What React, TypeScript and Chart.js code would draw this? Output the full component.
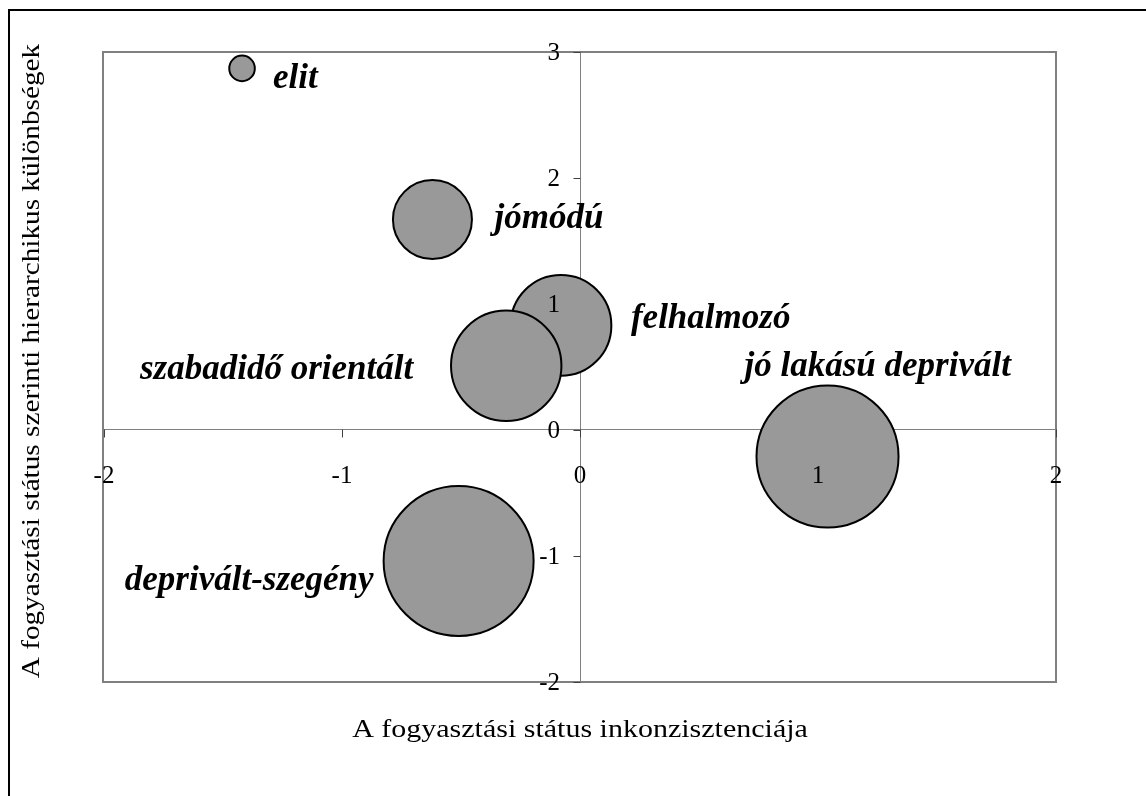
import React, { useEffect, useRef } from "react";
import { Chart, registerables } from "chart.js";

Chart.register(...registerables);

// ---- data ----
const groups = [
  "elit",
  "jómódú",
  "felhalmozó",
  "szabadidő orientált",
  "jó lakású deprivált",
  "deprivált-szegény",
];
const inconsistency = [-1.42, -0.62, -0.08, -0.31, 1.04, -0.51];
const hierarchy = [2.87, 1.67, 0.83, 0.51, -0.21, -1.04];
const groupShare = [0.9, 8.6, 14, 16.8, 27.8, 31];
const xTickValues = [-2, -1, 0, 1, 2];
const yTickValues = [-2, -1, 0, 1, 2, 3];
const xTitle = "A fogyasztási státus inkonzisztenciája";
const yTitle = "A fogyasztási státus szerinti hierarchikus különbségek";

// ---- layout of the free-standing group labels (px offsets from bubble centre) ----
const labelLayout = [
  { dx: 31, dy: 20, align: "left" },
  { dx: 62, dy: 8, align: "left" },
  { dx: 70, dy: 3, align: "left" },
  { dx: -93, dy: 13, align: "right" },
  { dx: -83, dy: -80, align: "left" },
  { dx: -85, dy: 29, align: "right" },
];

const SERIF = "'Liberation Serif', 'Times New Roman', serif";
const TITLE_STRETCH = 1.2;

const decor = {
  id: "decor",
  beforeDatasetsDraw(chart: any) {
    const { ctx, chartArea: a } = chart;
    const x = chart.scales.x;
    const y = chart.scales.y;
    ctx.save();
    // outer frame
    ctx.strokeStyle = "#000";
    ctx.lineWidth = 2;
    ctx.beginPath();
    ctx.moveTo(9, chart.height);
    ctx.lineTo(9, 10);
    ctx.lineTo(chart.width, 10);
    ctx.stroke();
    // plot area border
    ctx.strokeStyle = "#808080";
    ctx.lineWidth = 2;
    ctx.strokeRect(a.left - 1, a.top, a.right - a.left + 1, a.bottom - a.top);
    // axis lines through 0
    const x0 = Math.round(x.getPixelForValue(0)) + 0.5;
    const y0 = Math.round(y.getPixelForValue(0)) - 0.5;
    ctx.lineWidth = 1;
    ctx.strokeStyle = "#808080";
    ctx.beginPath();
    ctx.moveTo(a.left, y0);
    ctx.lineTo(a.right, y0);
    ctx.moveTo(x0, a.top);
    ctx.lineTo(x0, a.bottom);
    ctx.stroke();
    // tick marks
    ctx.strokeStyle = "#404040";
    ctx.beginPath();
    xTickValues.forEach((v) => {
      const px = Math.round(x.getPixelForValue(v)) + 0.5;
      ctx.moveTo(px, y0);
      ctx.lineTo(px, y0 + 8);
    });
    yTickValues.forEach((v) => {
      const py = Math.round(y.getPixelForValue(v)) + 0.5;
      ctx.moveTo(x0 - 7, py);
      ctx.lineTo(x0, py);
    });
    ctx.stroke();
    ctx.restore();
  },
  afterDatasetsDraw(chart: any) {
    const { ctx, chartArea: a } = chart;
    const x = chart.scales.x;
    const y = chart.scales.y;
    const x0 = x.getPixelForValue(0);
    const y0 = y.getPixelForValue(0);
    ctx.save();
    ctx.fillStyle = "#000";
    ctx.font = `25px ${SERIF}`;
    ctx.textBaseline = "alphabetic";
    // x tick labels
    ctx.textAlign = "center";
    xTickValues.forEach((v) => {
      ctx.fillText(String(v), x.getPixelForValue(v), y0 + 53);
    });
    // y tick labels
    ctx.textAlign = "right";
    yTickValues.forEach((v) => {
      ctx.fillText(String(v), x0 - 20, y.getPixelForValue(v) + 8);
    });
    // axis titles (horizontally stretched, as in the original)
    ctx.textAlign = "center";
    ctx.save();
    ctx.translate((a.left + a.right) / 2, a.bottom + 55);
    ctx.scale(TITLE_STRETCH, 1);
    ctx.fillText(xTitle, 0, 0);
    ctx.restore();
    ctx.save();
    ctx.translate(39, (a.top + a.bottom) / 2 - 6);
    ctx.rotate(-Math.PI / 2);
    ctx.scale(1.17, 1);
    ctx.fillText(yTitle, 0, 0);
    ctx.restore();
    // group labels
    ctx.font = `italic bold 35px ${SERIF}`;
    const meta = chart.getDatasetMeta(0);
    groups.forEach((g, i) => {
      const el = meta.data[i];
      const l = labelLayout[i];
      ctx.textAlign = l.align;
      ctx.fillText(g, el.x + l.dx, el.y + l.dy);
    });
    ctx.restore();
  },
};

export default function App() {
  const ref = useRef<HTMLCanvasElement>(null);
  useEffect(() => {
    const canvas = ref.current!;
    const maxShare = Math.max(...groupShare);
    const points = groups.map((_, i) => ({
      x: inconsistency[i],
      y: hierarchy[i],
      r: 75 * Math.sqrt(groupShare[i] / maxShare),
    }));
    const chart = new Chart(canvas, {
      type: "bubble",
      data: {
        datasets: [
          {
            label: "csoportok",
            data: points,
            backgroundColor: "#999999",
            borderColor: "#000000",
            borderWidth: 2,
            clip: false,
          },
        ],
      },
      options: {
        animation: false,
        responsive: false,
        devicePixelRatio: 1,
        events: [],
        layout: {
          autoPadding: false,
          padding: { left: 104, right: 90, top: 52, bottom: 114 },
        },
        plugins: {
          legend: { display: false },
          tooltip: { enabled: false },
        },
        scales: {
          x: { type: "linear", min: -2, max: 2, display: false },
          y: { type: "linear", min: -2, max: 3, display: false },
        },
      },
      plugins: [decor],
    } as any);
    return () => chart.destroy();
  }, []);
  return (
    <canvas
      ref={ref}
      width={1146}
      height={796}
      style={{ position: "absolute", left: 0, top: 0, display: "block", background: "#fff" }}
    />
  );
}
